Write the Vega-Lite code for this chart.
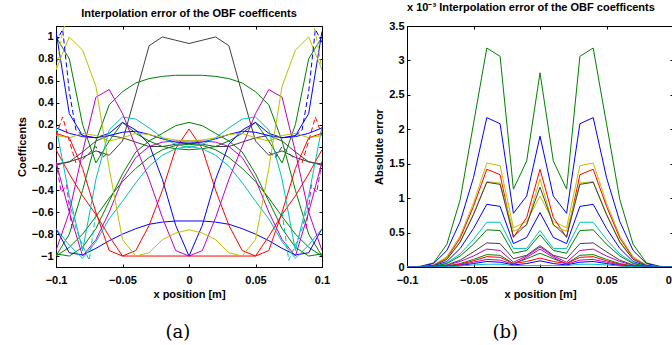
{
  "$schema": "https://vega.github.io/schema/vega-lite/v6.json",
  "padding": {"left": 15, "top": 1, "right": 0, "bottom": 0},
  "spacing": 42,
  "resolve": {"scale": {"x": "independent", "y": "independent", "color": "independent"}},
  "config": {
    "font": "Liberation Sans",
    "view": {"stroke": "black", "strokeWidth": 1},
    "axis": {
      "grid": false, "domainColor": "black", "tickColor": "black", "tickSize": -3,
      "labelFont": "Liberation Sans", "labelFontSize": 11, "labelFontWeight": "bold", "labelColor": "black",
      "titleFont": "Liberation Sans", "titleFontSize": 11, "titleFontWeight": "bold", "titleColor": "black",
      "labelFlush": false, "labelOverlap": false
    },
    "axisX": {"labelPadding": 10, "titlePadding": 3},
    "axisY": {"labelPadding": 6, "titlePadding": 4},
    "title": {"font": "Liberation Sans", "fontSize": 11, "fontWeight": "bold", "color": "black"},
    "line": {"strokeWidth": 1}
  },
  "datasets": {
    "ls": [
      {"c":"K1","x":-0.1,"y":-0.16},{"c":"K1","x":-0.09,"y":-0.14},{"c":"K1","x":-0.08,"y":-0.1},{"c":"K1","x":-0.07,"y":-0.04},{"c":"K1","x":-0.06,"y":-0.08},{"c":"K1","x":-0.05,"y":0.05},{"c":"K1","x":-0.04,"y":0.48},{"c":"K1","x":-0.03,"y":0.92},{"c":"K1","x":-0.02,"y":1.0},{"c":"K1","x":-0.01,"y":0.97},{"c":"K1","x":0,"y":0.94},{"c":"K1","x":0.01,"y":0.97},{"c":"K1","x":0.02,"y":1.0},{"c":"K1","x":0.03,"y":0.92},{"c":"K1","x":0.04,"y":0.48},{"c":"K1","x":0.05,"y":0.05},{"c":"K1","x":0.06,"y":-0.08},{"c":"K1","x":0.07,"y":-0.04},{"c":"K1","x":0.08,"y":-0.1},{"c":"K1","x":0.09,"y":-0.14},{"c":"K1","x":0.1,"y":-0.16},
      {"c":"K2","x":-0.1,"y":-0.17},{"c":"K2","x":-0.09,"y":-0.14},{"c":"K2","x":-0.08,"y":-0.05},{"c":"K2","x":-0.07,"y":0.05},{"c":"K2","x":-0.06,"y":0.1},{"c":"K2","x":-0.05,"y":0.08},{"c":"K2","x":-0.04,"y":0.04},{"c":"K2","x":-0.03,"y":0},{"c":"K2","x":-0.02,"y":0},{"c":"K2","x":-0.01,"y":0.02},{"c":"K2","x":0,"y":0.03},{"c":"K2","x":0.01,"y":0.02},{"c":"K2","x":0.02,"y":0},{"c":"K2","x":0.03,"y":0},{"c":"K2","x":0.04,"y":0.04},{"c":"K2","x":0.05,"y":0.08},{"c":"K2","x":0.06,"y":0.1},{"c":"K2","x":0.07,"y":0.05},{"c":"K2","x":0.08,"y":-0.05},{"c":"K2","x":0.09,"y":-0.14},{"c":"K2","x":0.1,"y":-0.17},
      {"c":"G1","x":-0.1,"y":-1},{"c":"G1","x":-0.09,"y":-0.8},{"c":"G1","x":-0.08,"y":-0.4},{"c":"G1","x":-0.07,"y":0.05},{"c":"G1","x":-0.06,"y":0.38},{"c":"G1","x":-0.05,"y":0.5},{"c":"G1","x":-0.04,"y":0.58},{"c":"G1","x":-0.03,"y":0.62},{"c":"G1","x":-0.02,"y":0.64},{"c":"G1","x":-0.01,"y":0.65},{"c":"G1","x":0,"y":0.65},{"c":"G1","x":0.01,"y":0.65},{"c":"G1","x":0.02,"y":0.64},{"c":"G1","x":0.03,"y":0.62},{"c":"G1","x":0.04,"y":0.58},{"c":"G1","x":0.05,"y":0.5},{"c":"G1","x":0.06,"y":0.38},{"c":"G1","x":0.07,"y":0.05},{"c":"G1","x":0.08,"y":-0.4},{"c":"G1","x":0.09,"y":-0.8},{"c":"G1","x":0.1,"y":-1},
      {"c":"G2","x":-0.1,"y":-0.98},{"c":"G2","x":-0.09,"y":-1},{"c":"G2","x":-0.08,"y":-0.92},{"c":"G2","x":-0.07,"y":-0.75},{"c":"G2","x":-0.06,"y":-0.5},{"c":"G2","x":-0.05,"y":-0.25},{"c":"G2","x":-0.04,"y":-0.05},{"c":"G2","x":-0.03,"y":0.05},{"c":"G2","x":-0.02,"y":0.12},{"c":"G2","x":-0.01,"y":0.19},{"c":"G2","x":0,"y":0.22},{"c":"G2","x":0.01,"y":0.19},{"c":"G2","x":0.02,"y":0.12},{"c":"G2","x":0.03,"y":0.05},{"c":"G2","x":0.04,"y":-0.05},{"c":"G2","x":0.05,"y":-0.25},{"c":"G2","x":0.06,"y":-0.5},{"c":"G2","x":0.07,"y":-0.75},{"c":"G2","x":0.08,"y":-0.92},{"c":"G2","x":0.09,"y":-1},{"c":"G2","x":0.1,"y":-0.98},
      {"c":"G3","x":-0.1,"y":-1},{"c":"G3","x":-0.09,"y":-0.92},{"c":"G3","x":-0.08,"y":-0.8},{"c":"G3","x":-0.07,"y":-0.64},{"c":"G3","x":-0.06,"y":-0.47},{"c":"G3","x":-0.05,"y":-0.32},{"c":"G3","x":-0.04,"y":-0.2},{"c":"G3","x":-0.03,"y":-0.1},{"c":"G3","x":-0.02,"y":-0.03},{"c":"G3","x":-0.01,"y":0.01},{"c":"G3","x":0,"y":0.02},{"c":"G3","x":0.01,"y":0.01},{"c":"G3","x":0.02,"y":-0.03},{"c":"G3","x":0.03,"y":-0.1},{"c":"G3","x":0.04,"y":-0.2},{"c":"G3","x":0.05,"y":-0.32},{"c":"G3","x":0.06,"y":-0.47},{"c":"G3","x":0.07,"y":-0.64},{"c":"G3","x":0.08,"y":-0.8},{"c":"G3","x":0.09,"y":-0.92},{"c":"G3","x":0.1,"y":-1},
      {"c":"G4","x":-0.1,"y":1},{"c":"G4","x":-0.09,"y":0.8},{"c":"G4","x":-0.08,"y":0.2},{"c":"G4","x":-0.07,"y":-0.15},{"c":"G4","x":-0.06,"y":0.05},{"c":"G4","x":-0.05,"y":0.22},{"c":"G4","x":-0.04,"y":0.12},{"c":"G4","x":-0.03,"y":0.05},{"c":"G4","x":-0.02,"y":0},{"c":"G4","x":-0.01,"y":-0.02},{"c":"G4","x":0,"y":-0.03},{"c":"G4","x":0.01,"y":-0.02},{"c":"G4","x":0.02,"y":0},{"c":"G4","x":0.03,"y":0.05},{"c":"G4","x":0.04,"y":0.12},{"c":"G4","x":0.05,"y":0.22},{"c":"G4","x":0.06,"y":0.05},{"c":"G4","x":0.07,"y":-0.15},{"c":"G4","x":0.08,"y":0.2},{"c":"G4","x":0.09,"y":0.8},{"c":"G4","x":0.1,"y":1},
      {"c":"B1","x":-0.1,"y":1.05},{"c":"B1","x":-0.09,"y":0.3},{"c":"B1","x":-0.08,"y":0.1},{"c":"B1","x":-0.07,"y":0.08},{"c":"B1","x":-0.06,"y":0.12},{"c":"B1","x":-0.05,"y":0.22},{"c":"B1","x":-0.04,"y":0.15},{"c":"B1","x":-0.03,"y":0.02},{"c":"B1","x":-0.02,"y":-0.3},{"c":"B1","x":-0.01,"y":-0.72},{"c":"B1","x":0,"y":-1},{"c":"B1","x":0.01,"y":-0.72},{"c":"B1","x":0.02,"y":-0.3},{"c":"B1","x":0.03,"y":0.02},{"c":"B1","x":0.04,"y":0.15},{"c":"B1","x":0.05,"y":0.22},{"c":"B1","x":0.06,"y":0.12},{"c":"B1","x":0.07,"y":0.08},{"c":"B1","x":0.08,"y":0.1},{"c":"B1","x":0.09,"y":0.3},{"c":"B1","x":0.1,"y":1.05},
      {"c":"B2","x":-0.1,"y":-0.75},{"c":"B2","x":-0.09,"y":-0.97},{"c":"B2","x":-0.08,"y":-0.99},{"c":"B2","x":-0.07,"y":-0.93},{"c":"B2","x":-0.06,"y":-0.86},{"c":"B2","x":-0.05,"y":-0.8},{"c":"B2","x":-0.04,"y":-0.75},{"c":"B2","x":-0.03,"y":-0.71},{"c":"B2","x":-0.02,"y":-0.69},{"c":"B2","x":-0.01,"y":-0.68},{"c":"B2","x":0,"y":-0.68},{"c":"B2","x":0.01,"y":-0.68},{"c":"B2","x":0.02,"y":-0.69},{"c":"B2","x":0.03,"y":-0.71},{"c":"B2","x":0.04,"y":-0.75},{"c":"B2","x":0.05,"y":-0.8},{"c":"B2","x":0.06,"y":-0.86},{"c":"B2","x":0.07,"y":-0.93},{"c":"B2","x":0.08,"y":-0.99},{"c":"B2","x":0.09,"y":-0.97},{"c":"B2","x":0.1,"y":-0.75},
      {"c":"B3","x":-0.1,"y":0.17},{"c":"B3","x":-0.09,"y":0.12},{"c":"B3","x":-0.08,"y":0.09},{"c":"B3","x":-0.07,"y":0.08},{"c":"B3","x":-0.06,"y":0.1},{"c":"B3","x":-0.05,"y":0.13},{"c":"B3","x":-0.04,"y":0.14},{"c":"B3","x":-0.03,"y":0.11},{"c":"B3","x":-0.02,"y":0.07},{"c":"B3","x":-0.01,"y":0.04},{"c":"B3","x":0,"y":0.03},{"c":"B3","x":0.01,"y":0.04},{"c":"B3","x":0.02,"y":0.07},{"c":"B3","x":0.03,"y":0.11},{"c":"B3","x":0.04,"y":0.14},{"c":"B3","x":0.05,"y":0.13},{"c":"B3","x":0.06,"y":0.1},{"c":"B3","x":0.07,"y":0.08},{"c":"B3","x":0.08,"y":0.09},{"c":"B3","x":0.09,"y":0.12},{"c":"B3","x":0.1,"y":0.17},
      {"c":"R1","x":-0.1,"y":-0.03},{"c":"R1","x":-0.09,"y":-0.25},{"c":"R1","x":-0.08,"y":-0.45},{"c":"R1","x":-0.07,"y":-0.62},{"c":"R1","x":-0.06,"y":-0.82},{"c":"R1","x":-0.05,"y":-1},{"c":"R1","x":-0.04,"y":-0.95},{"c":"R1","x":-0.03,"y":-0.72},{"c":"R1","x":-0.02,"y":-0.4},{"c":"R1","x":-0.01,"y":-0.02},{"c":"R1","x":0,"y":0.16},{"c":"R1","x":0.01,"y":-0.02},{"c":"R1","x":0.02,"y":-0.4},{"c":"R1","x":0.03,"y":-0.72},{"c":"R1","x":0.04,"y":-0.95},{"c":"R1","x":0.05,"y":-1},{"c":"R1","x":0.06,"y":-0.82},{"c":"R1","x":0.07,"y":-0.62},{"c":"R1","x":0.08,"y":-0.45},{"c":"R1","x":0.09,"y":-0.25},{"c":"R1","x":0.1,"y":-0.03},
      {"c":"R2","x":-0.1,"y":0.12},{"c":"R2","x":-0.09,"y":0.08},{"c":"R2","x":-0.08,"y":-0.2},{"c":"R2","x":-0.07,"y":-0.6},{"c":"R2","x":-0.06,"y":-0.95},{"c":"R2","x":-0.05,"y":-1},{"c":"R2","x":-0.04,"y":-1},{"c":"R2","x":-0.03,"y":-1},{"c":"R2","x":-0.02,"y":-1},{"c":"R2","x":-0.01,"y":-1},{"c":"R2","x":0,"y":-1},{"c":"R2","x":0.01,"y":-1},{"c":"R2","x":0.02,"y":-1},{"c":"R2","x":0.03,"y":-1},{"c":"R2","x":0.04,"y":-1},{"c":"R2","x":0.05,"y":-1},{"c":"R2","x":0.06,"y":-0.95},{"c":"R2","x":0.07,"y":-0.6},{"c":"R2","x":0.08,"y":-0.2},{"c":"R2","x":0.09,"y":0.08},{"c":"R2","x":0.1,"y":0.12},
      {"c":"C1","x":-0.1,"y":-0.75},{"c":"C1","x":-0.09,"y":-0.9},{"c":"C1","x":-0.08,"y":-1.02},{"c":"C1","x":-0.07,"y":-0.87},{"c":"C1","x":-0.06,"y":-0.66},{"c":"C1","x":-0.05,"y":-0.5},{"c":"C1","x":-0.04,"y":-0.33},{"c":"C1","x":-0.03,"y":-0.18},{"c":"C1","x":-0.02,"y":-0.08},{"c":"C1","x":-0.01,"y":-0.02},{"c":"C1","x":0,"y":0},{"c":"C1","x":0.01,"y":-0.02},{"c":"C1","x":0.02,"y":-0.08},{"c":"C1","x":0.03,"y":-0.18},{"c":"C1","x":0.04,"y":-0.33},{"c":"C1","x":0.05,"y":-0.5},{"c":"C1","x":0.06,"y":-0.66},{"c":"C1","x":0.07,"y":-0.87},{"c":"C1","x":0.08,"y":-1.02},{"c":"C1","x":0.09,"y":-0.9},{"c":"C1","x":0.1,"y":-0.75},
      {"c":"C2","x":-0.1,"y":0.18},{"c":"C2","x":-0.09,"y":-0.45},{"c":"C2","x":-0.08,"y":-0.95},{"c":"C2","x":-0.07,"y":-0.3},{"c":"C2","x":-0.06,"y":0.15},{"c":"C2","x":-0.05,"y":0.27},{"c":"C2","x":-0.04,"y":0.25},{"c":"C2","x":-0.03,"y":0.17},{"c":"C2","x":-0.02,"y":0.08},{"c":"C2","x":-0.01,"y":0.02},{"c":"C2","x":0,"y":-0.01},{"c":"C2","x":0.01,"y":0.02},{"c":"C2","x":0.02,"y":0.08},{"c":"C2","x":0.03,"y":0.17},{"c":"C2","x":0.04,"y":0.25},{"c":"C2","x":0.05,"y":0.27},{"c":"C2","x":0.06,"y":0.15},{"c":"C2","x":0.07,"y":-0.3},{"c":"C2","x":0.08,"y":-0.95},{"c":"C2","x":0.09,"y":-0.45},{"c":"C2","x":0.1,"y":0.18},
      {"c":"M1","x":-0.1,"y":-0.95},{"c":"M1","x":-0.09,"y":-0.6},{"c":"M1","x":-0.08,"y":-0.05},{"c":"M1","x":-0.07,"y":0.45},{"c":"M1","x":-0.06,"y":0.52},{"c":"M1","x":-0.05,"y":0.3},{"c":"M1","x":-0.04,"y":0},{"c":"M1","x":-0.03,"y":-0.3},{"c":"M1","x":-0.02,"y":-0.65},{"c":"M1","x":-0.01,"y":-0.95},{"c":"M1","x":0,"y":-1},{"c":"M1","x":0.01,"y":-0.95},{"c":"M1","x":0.02,"y":-0.65},{"c":"M1","x":0.03,"y":-0.3},{"c":"M1","x":0.04,"y":0},{"c":"M1","x":0.05,"y":0.3},{"c":"M1","x":0.06,"y":0.52},{"c":"M1","x":0.07,"y":0.45},{"c":"M1","x":0.08,"y":-0.05},{"c":"M1","x":0.09,"y":-0.6},{"c":"M1","x":0.1,"y":-0.95},
      {"c":"M2","x":-0.1,"y":-0.14},{"c":"M2","x":-0.09,"y":-0.6},{"c":"M2","x":-0.08,"y":-1},{"c":"M2","x":-0.07,"y":-0.85},{"c":"M2","x":-0.06,"y":-0.6},{"c":"M2","x":-0.05,"y":-0.3},{"c":"M2","x":-0.04,"y":-0.1},{"c":"M2","x":-0.03,"y":0},{"c":"M2","x":-0.02,"y":0.04},{"c":"M2","x":-0.01,"y":0.05},{"c":"M2","x":0,"y":0.05},{"c":"M2","x":0.01,"y":0.05},{"c":"M2","x":0.02,"y":0.04},{"c":"M2","x":0.03,"y":0},{"c":"M2","x":0.04,"y":-0.1},{"c":"M2","x":0.05,"y":-0.3},{"c":"M2","x":0.06,"y":-0.6},{"c":"M2","x":0.07,"y":-0.85},{"c":"M2","x":0.08,"y":-1},{"c":"M2","x":0.09,"y":-0.6},{"c":"M2","x":0.1,"y":-0.14},
      {"c":"Y1","x":-0.1,"y":0.7},{"c":"Y1","x":-0.09,"y":1},{"c":"Y1","x":-0.08,"y":0.88},{"c":"Y1","x":-0.07,"y":0.55},{"c":"Y1","x":-0.06,"y":-0.2},{"c":"Y1","x":-0.05,"y":-0.85},{"c":"Y1","x":-0.04,"y":-1},{"c":"Y1","x":-0.03,"y":-0.97},{"c":"Y1","x":-0.02,"y":-0.85},{"c":"Y1","x":-0.01,"y":-0.79},{"c":"Y1","x":0,"y":-0.76},{"c":"Y1","x":0.01,"y":-0.79},{"c":"Y1","x":0.02,"y":-0.85},{"c":"Y1","x":0.03,"y":-0.97},{"c":"Y1","x":0.04,"y":-1},{"c":"Y1","x":0.05,"y":-0.85},{"c":"Y1","x":0.06,"y":-0.2},{"c":"Y1","x":0.07,"y":0.55},{"c":"Y1","x":0.08,"y":0.88},{"c":"Y1","x":0.09,"y":1},{"c":"Y1","x":0.1,"y":0.7},
      {"c":"Y2","x":-0.1,"y":0.1},{"c":"Y2","x":-0.09,"y":0.08},{"c":"Y2","x":-0.08,"y":0.12},{"c":"Y2","x":-0.07,"y":0.1},{"c":"Y2","x":-0.06,"y":0.05},{"c":"Y2","x":-0.05,"y":0.08},{"c":"Y2","x":-0.04,"y":0.12},{"c":"Y2","x":-0.03,"y":0.11},{"c":"Y2","x":-0.02,"y":0.08},{"c":"Y2","x":-0.01,"y":0.06},{"c":"Y2","x":0,"y":0.05},{"c":"Y2","x":0.01,"y":0.06},{"c":"Y2","x":0.02,"y":0.08},{"c":"Y2","x":0.03,"y":0.11},{"c":"Y2","x":0.04,"y":0.12},{"c":"Y2","x":0.05,"y":0.08},{"c":"Y2","x":0.06,"y":0.05},{"c":"Y2","x":0.07,"y":0.1},{"c":"Y2","x":0.08,"y":0.12},{"c":"Y2","x":0.09,"y":0.08},{"c":"Y2","x":0.1,"y":0.1}
    ],
    "ld": [
      {"c":"B1","p":"L","x":-0.1,"y":0.95},{"c":"B1","p":"L","x":-0.095,"y":1.07},{"c":"B1","p":"L","x":-0.09,"y":0.5},{"c":"B1","p":"L","x":-0.085,"y":0.15},{"c":"B1","p":"L","x":-0.08,"y":0.1},
      {"c":"B1","p":"R","x":0.1,"y":0.95},{"c":"B1","p":"R","x":0.095,"y":1.07},{"c":"B1","p":"R","x":0.09,"y":0.5},{"c":"B1","p":"R","x":0.085,"y":0.15},{"c":"B1","p":"R","x":0.08,"y":0.1},
      {"c":"R2","p":"L","x":-0.1,"y":0.1},{"c":"R2","p":"L","x":-0.095,"y":0.27},{"c":"R2","p":"L","x":-0.09,"y":0.05},{"c":"R2","p":"L","x":-0.085,"y":-0.15},
      {"c":"R2","p":"R","x":0.1,"y":0.1},{"c":"R2","p":"R","x":0.095,"y":0.27},{"c":"R2","p":"R","x":0.09,"y":0.05},{"c":"R2","p":"R","x":0.085,"y":-0.15},
      {"c":"M2","p":"L","x":-0.1,"y":-0.14},{"c":"M2","p":"L","x":-0.096,"y":-0.42},{"c":"M2","p":"L","x":-0.092,"y":-0.35},{"c":"M2","p":"L","x":-0.088,"y":-0.75},
      {"c":"M2","p":"R","x":0.1,"y":-0.14},{"c":"M2","p":"R","x":0.096,"y":-0.42},{"c":"M2","p":"R","x":0.092,"y":-0.35},{"c":"M2","p":"R","x":0.088,"y":-0.75},
      {"c":"C2","p":"L","x":-0.09,"y":-0.5},{"c":"C2","p":"L","x":-0.085,"y":-0.75},{"c":"C2","p":"L","x":-0.08,"y":-0.9},{"c":"C2","p":"L","x":-0.075,"y":-1.04},{"c":"C2","p":"L","x":-0.07,"y":-0.6},
      {"c":"C2","p":"R","x":0.09,"y":-0.5},{"c":"C2","p":"R","x":0.085,"y":-0.75},{"c":"C2","p":"R","x":0.08,"y":-0.9},{"c":"C2","p":"R","x":0.075,"y":-1.04},{"c":"C2","p":"R","x":0.07,"y":-0.6},
      {"c":"Y1","p":"L","x":-0.1,"y":0.7},{"c":"Y1","p":"L","x":-0.095,"y":1.05},{"c":"Y1","p":"L","x":-0.092,"y":1.15},
      {"c":"Y1","p":"R","x":0.1,"y":0.7},{"c":"Y1","p":"R","x":0.095,"y":1.05},{"c":"Y1","p":"R","x":0.092,"y":1.15},
      {"c":"K1","p":"L","x":-0.08,"y":-0.12},{"c":"K1","p":"L","x":-0.07,"y":0.0},{"c":"K1","p":"L","x":-0.065,"y":-0.1},{"c":"K1","p":"L","x":-0.06,"y":-0.05},
      {"c":"K1","p":"R","x":0.08,"y":-0.12},{"c":"K1","p":"R","x":0.07,"y":0.0},{"c":"K1","p":"R","x":0.065,"y":-0.1},{"c":"K1","p":"R","x":0.06,"y":-0.05}
    ],
    "r": [
      {"c":"g1","x":-0.1,"y":0},{"c":"g1","x":-0.09,"y":0.01},{"c":"g1","x":-0.08,"y":0.06},{"c":"g1","x":-0.07,"y":0.33},{"c":"g1","x":-0.06,"y":0.98},{"c":"g1","x":-0.05,"y":2.08},{"c":"g1","x":-0.04,"y":3.18},{"c":"g1","x":-0.03,"y":3.06},{"c":"g1","x":-0.02,"y":1.13},{"c":"g1","x":-0.01,"y":1.54},{"c":"g1","x":0,"y":2.82},{"c":"g1","x":0.01,"y":1.54},{"c":"g1","x":0.02,"y":1.13},{"c":"g1","x":0.03,"y":3.06},{"c":"g1","x":0.04,"y":3.18},{"c":"g1","x":0.05,"y":2.08},{"c":"g1","x":0.06,"y":0.98},{"c":"g1","x":0.07,"y":0.33},{"c":"g1","x":0.08,"y":0.06},{"c":"g1","x":0.09,"y":0.01},{"c":"g1","x":0.1,"y":0},
      {"c":"b1","x":-0.1,"y":0},{"c":"b1","x":-0.09,"y":0.005},{"c":"b1","x":-0.08,"y":0.05},{"c":"b1","x":-0.07,"y":0.24},{"c":"b1","x":-0.06,"y":0.66},{"c":"b1","x":-0.05,"y":1.3},{"c":"b1","x":-0.04,"y":2.17},{"c":"b1","x":-0.03,"y":2.08},{"c":"b1","x":-0.02,"y":0.78},{"c":"b1","x":-0.01,"y":1.03},{"c":"b1","x":0,"y":1.9},{"c":"b1","x":0.01,"y":1.03},{"c":"b1","x":0.02,"y":0.78},{"c":"b1","x":0.03,"y":2.08},{"c":"b1","x":0.04,"y":2.17},{"c":"b1","x":0.05,"y":1.3},{"c":"b1","x":0.06,"y":0.66},{"c":"b1","x":0.07,"y":0.24},{"c":"b1","x":0.08,"y":0.05},{"c":"b1","x":0.09,"y":0.005},{"c":"b1","x":0.1,"y":0},
      {"c":"y1","x":-0.1,"y":0},{"c":"y1","x":-0.09,"y":0.004},{"c":"y1","x":-0.08,"y":0.03},{"c":"y1","x":-0.07,"y":0.15},{"c":"y1","x":-0.06,"y":0.45},{"c":"y1","x":-0.05,"y":0.93},{"c":"y1","x":-0.04,"y":1.51},{"c":"y1","x":-0.03,"y":1.47},{"c":"y1","x":-0.02,"y":0.57},{"c":"y1","x":-0.01,"y":0.66},{"c":"y1","x":0,"y":1.03},{"c":"y1","x":0.01,"y":0.66},{"c":"y1","x":0.02,"y":0.57},{"c":"y1","x":0.03,"y":1.47},{"c":"y1","x":0.04,"y":1.51},{"c":"y1","x":0.05,"y":0.93},{"c":"y1","x":0.06,"y":0.45},{"c":"y1","x":0.07,"y":0.15},{"c":"y1","x":0.08,"y":0.03},{"c":"y1","x":0.09,"y":0.004},{"c":"y1","x":0.1,"y":0},
      {"c":"r1","x":-0.1,"y":0},{"c":"r1","x":-0.09,"y":0.003},{"c":"r1","x":-0.08,"y":0.025},{"c":"r1","x":-0.07,"y":0.13},{"c":"r1","x":-0.06,"y":0.42},{"c":"r1","x":-0.05,"y":0.88},{"c":"r1","x":-0.04,"y":1.42},{"c":"r1","x":-0.03,"y":1.34},{"c":"r1","x":-0.02,"y":0.43},{"c":"r1","x":-0.01,"y":0.72},{"c":"r1","x":0,"y":1.42},{"c":"r1","x":0.01,"y":0.72},{"c":"r1","x":0.02,"y":0.43},{"c":"r1","x":0.03,"y":1.34},{"c":"r1","x":0.04,"y":1.42},{"c":"r1","x":0.05,"y":0.88},{"c":"r1","x":0.06,"y":0.42},{"c":"r1","x":0.07,"y":0.13},{"c":"r1","x":0.08,"y":0.025},{"c":"r1","x":0.09,"y":0.003},{"c":"r1","x":0.1,"y":0},
      {"c":"y2","x":-0.1,"y":0},{"c":"y2","x":-0.09,"y":0.003},{"c":"y2","x":-0.08,"y":0.02},{"c":"y2","x":-0.07,"y":0.12},{"c":"y2","x":-0.06,"y":0.37},{"c":"y2","x":-0.05,"y":0.77},{"c":"y2","x":-0.04,"y":1.24},{"c":"y2","x":-0.03,"y":1.22},{"c":"y2","x":-0.02,"y":0.52},{"c":"y2","x":-0.01,"y":0.6},{"c":"y2","x":0,"y":1.28},{"c":"y2","x":0.01,"y":0.6},{"c":"y2","x":0.02,"y":0.52},{"c":"y2","x":0.03,"y":1.22},{"c":"y2","x":0.04,"y":1.24},{"c":"y2","x":0.05,"y":0.77},{"c":"y2","x":0.06,"y":0.37},{"c":"y2","x":0.07,"y":0.12},{"c":"y2","x":0.08,"y":0.02},{"c":"y2","x":0.09,"y":0.003},{"c":"y2","x":0.1,"y":0},
      {"c":"k1","x":-0.1,"y":0},{"c":"k1","x":-0.09,"y":0.003},{"c":"k1","x":-0.08,"y":0.02},{"c":"k1","x":-0.07,"y":0.11},{"c":"k1","x":-0.06,"y":0.36},{"c":"k1","x":-0.05,"y":0.76},{"c":"k1","x":-0.04,"y":1.23},{"c":"k1","x":-0.03,"y":1.2},{"c":"k1","x":-0.02,"y":0.44},{"c":"k1","x":-0.01,"y":0.62},{"c":"k1","x":0,"y":1.16},{"c":"k1","x":0.01,"y":0.62},{"c":"k1","x":0.02,"y":0.44},{"c":"k1","x":0.03,"y":1.2},{"c":"k1","x":0.04,"y":1.23},{"c":"k1","x":0.05,"y":0.76},{"c":"k1","x":0.06,"y":0.36},{"c":"k1","x":0.07,"y":0.11},{"c":"k1","x":0.08,"y":0.02},{"c":"k1","x":0.09,"y":0.003},{"c":"k1","x":0.1,"y":0},
      {"c":"b2","x":-0.1,"y":0},{"c":"b2","x":-0.09,"y":0.002},{"c":"b2","x":-0.08,"y":0.015},{"c":"b2","x":-0.07,"y":0.08},{"c":"b2","x":-0.06,"y":0.27},{"c":"b2","x":-0.05,"y":0.56},{"c":"b2","x":-0.04,"y":0.91},{"c":"b2","x":-0.03,"y":0.88},{"c":"b2","x":-0.02,"y":0.34},{"c":"b2","x":-0.01,"y":0.43},{"c":"b2","x":0,"y":0.79},{"c":"b2","x":0.01,"y":0.43},{"c":"b2","x":0.02,"y":0.34},{"c":"b2","x":0.03,"y":0.88},{"c":"b2","x":0.04,"y":0.91},{"c":"b2","x":0.05,"y":0.56},{"c":"b2","x":0.06,"y":0.27},{"c":"b2","x":0.07,"y":0.08},{"c":"b2","x":0.08,"y":0.015},{"c":"b2","x":0.09,"y":0.002},{"c":"b2","x":0.1,"y":0},
      {"c":"c1","x":-0.1,"y":0},{"c":"c1","x":-0.09,"y":0.001},{"c":"c1","x":-0.08,"y":0.01},{"c":"c1","x":-0.07,"y":0.06},{"c":"c1","x":-0.06,"y":0.19},{"c":"c1","x":-0.05,"y":0.4},{"c":"c1","x":-0.04,"y":0.65},{"c":"c1","x":-0.03,"y":0.65},{"c":"c1","x":-0.02,"y":0.27},{"c":"c1","x":-0.01,"y":0.27},{"c":"c1","x":0,"y":0.53},{"c":"c1","x":0.01,"y":0.27},{"c":"c1","x":0.02,"y":0.27},{"c":"c1","x":0.03,"y":0.65},{"c":"c1","x":0.04,"y":0.65},{"c":"c1","x":0.05,"y":0.4},{"c":"c1","x":0.06,"y":0.19},{"c":"c1","x":0.07,"y":0.06},{"c":"c1","x":0.08,"y":0.01},{"c":"c1","x":0.09,"y":0.001},{"c":"c1","x":0.1,"y":0},
      {"c":"g2","x":-0.1,"y":0},{"c":"g2","x":-0.09,"y":0.001},{"c":"g2","x":-0.08,"y":0.008},{"c":"g2","x":-0.07,"y":0.05},{"c":"g2","x":-0.06,"y":0.16},{"c":"g2","x":-0.05,"y":0.33},{"c":"g2","x":-0.04,"y":0.54},{"c":"g2","x":-0.03,"y":0.53},{"c":"g2","x":-0.02,"y":0.2},{"c":"g2","x":-0.01,"y":0.24},{"c":"g2","x":0,"y":0.47},{"c":"g2","x":0.01,"y":0.24},{"c":"g2","x":0.02,"y":0.2},{"c":"g2","x":0.03,"y":0.53},{"c":"g2","x":0.04,"y":0.54},{"c":"g2","x":0.05,"y":0.33},{"c":"g2","x":0.06,"y":0.16},{"c":"g2","x":0.07,"y":0.05},{"c":"g2","x":0.08,"y":0.008},{"c":"g2","x":0.09,"y":0.001},{"c":"g2","x":0.1,"y":0},
      {"c":"k2","x":-0.1,"y":0},{"c":"k2","x":-0.09,"y":0},{"c":"k2","x":-0.08,"y":0.005},{"c":"k2","x":-0.07,"y":0.03},{"c":"k2","x":-0.06,"y":0.1},{"c":"k2","x":-0.05,"y":0.22},{"c":"k2","x":-0.04,"y":0.35},{"c":"k2","x":-0.03,"y":0.34},{"c":"k2","x":-0.02,"y":0.12},{"c":"k2","x":-0.01,"y":0.17},{"c":"k2","x":0,"y":0.31},{"c":"k2","x":0.01,"y":0.17},{"c":"k2","x":0.02,"y":0.12},{"c":"k2","x":0.03,"y":0.34},{"c":"k2","x":0.04,"y":0.35},{"c":"k2","x":0.05,"y":0.22},{"c":"k2","x":0.06,"y":0.1},{"c":"k2","x":0.07,"y":0.03},{"c":"k2","x":0.08,"y":0.005},{"c":"k2","x":0.09,"y":0},{"c":"k2","x":0.1,"y":0},
      {"c":"m1","x":-0.1,"y":0},{"c":"m1","x":-0.09,"y":0},{"c":"m1","x":-0.08,"y":0.004},{"c":"m1","x":-0.07,"y":0.025},{"c":"m1","x":-0.06,"y":0.08},{"c":"m1","x":-0.05,"y":0.16},{"c":"m1","x":-0.04,"y":0.26},{"c":"m1","x":-0.03,"y":0.24},{"c":"m1","x":-0.02,"y":0.07},{"c":"m1","x":-0.01,"y":0.16},{"c":"m1","x":0,"y":0.29},{"c":"m1","x":0.01,"y":0.16},{"c":"m1","x":0.02,"y":0.07},{"c":"m1","x":0.03,"y":0.24},{"c":"m1","x":0.04,"y":0.26},{"c":"m1","x":0.05,"y":0.16},{"c":"m1","x":0.06,"y":0.08},{"c":"m1","x":0.07,"y":0.025},{"c":"m1","x":0.08,"y":0.004},{"c":"m1","x":0.09,"y":0},{"c":"m1","x":0.1,"y":0},
      {"c":"g3","x":-0.1,"y":0},{"c":"g3","x":-0.09,"y":0},{"c":"g3","x":-0.08,"y":0.003},{"c":"g3","x":-0.07,"y":0.015},{"c":"g3","x":-0.06,"y":0.05},{"c":"g3","x":-0.05,"y":0.11},{"c":"g3","x":-0.04,"y":0.18},{"c":"g3","x":-0.03,"y":0.17},{"c":"g3","x":-0.02,"y":0.05},{"c":"g3","x":-0.01,"y":0.12},{"c":"g3","x":0,"y":0.2},{"c":"g3","x":0.01,"y":0.12},{"c":"g3","x":0.02,"y":0.05},{"c":"g3","x":0.03,"y":0.17},{"c":"g3","x":0.04,"y":0.18},{"c":"g3","x":0.05,"y":0.11},{"c":"g3","x":0.06,"y":0.05},{"c":"g3","x":0.07,"y":0.015},{"c":"g3","x":0.08,"y":0.003},{"c":"g3","x":0.09,"y":0},{"c":"g3","x":0.1,"y":0},
      {"c":"r2","x":-0.1,"y":0},{"c":"r2","x":-0.09,"y":0},{"c":"r2","x":-0.08,"y":0.002},{"c":"r2","x":-0.07,"y":0.012},{"c":"r2","x":-0.06,"y":0.04},{"c":"r2","x":-0.05,"y":0.09},{"c":"r2","x":-0.04,"y":0.15},{"c":"r2","x":-0.03,"y":0.14},{"c":"r2","x":-0.02,"y":0.05},{"c":"r2","x":-0.01,"y":0.08},{"c":"r2","x":0,"y":0.13},{"c":"r2","x":0.01,"y":0.08},{"c":"r2","x":0.02,"y":0.05},{"c":"r2","x":0.03,"y":0.14},{"c":"r2","x":0.04,"y":0.15},{"c":"r2","x":0.05,"y":0.09},{"c":"r2","x":0.06,"y":0.04},{"c":"r2","x":0.07,"y":0.012},{"c":"r2","x":0.08,"y":0.002},{"c":"r2","x":0.09,"y":0},{"c":"r2","x":0.1,"y":0},
      {"c":"m2","x":-0.1,"y":0},{"c":"m2","x":-0.09,"y":0},{"c":"m2","x":-0.08,"y":0.001},{"c":"m2","x":-0.07,"y":0.01},{"c":"m2","x":-0.06,"y":0.03},{"c":"m2","x":-0.05,"y":0.07},{"c":"m2","x":-0.04,"y":0.11},{"c":"m2","x":-0.03,"y":0.1},{"c":"m2","x":-0.02,"y":0.04},{"c":"m2","x":-0.01,"y":0.14},{"c":"m2","x":0,"y":0.26},{"c":"m2","x":0.01,"y":0.14},{"c":"m2","x":0.02,"y":0.04},{"c":"m2","x":0.03,"y":0.1},{"c":"m2","x":0.04,"y":0.11},{"c":"m2","x":0.05,"y":0.07},{"c":"m2","x":0.06,"y":0.03},{"c":"m2","x":0.07,"y":0.01},{"c":"m2","x":0.08,"y":0.001},{"c":"m2","x":0.09,"y":0},{"c":"m2","x":0.1,"y":0},
      {"c":"b3","x":-0.1,"y":0},{"c":"b3","x":-0.09,"y":0},{"c":"b3","x":-0.08,"y":0.001},{"c":"b3","x":-0.07,"y":0.006},{"c":"b3","x":-0.06,"y":0.02},{"c":"b3","x":-0.05,"y":0.05},{"c":"b3","x":-0.04,"y":0.08},{"c":"b3","x":-0.03,"y":0.07},{"c":"b3","x":-0.02,"y":0.03},{"c":"b3","x":-0.01,"y":0.05},{"c":"b3","x":0,"y":0.09},{"c":"b3","x":0.01,"y":0.05},{"c":"b3","x":0.02,"y":0.03},{"c":"b3","x":0.03,"y":0.07},{"c":"b3","x":0.04,"y":0.08},{"c":"b3","x":0.05,"y":0.05},{"c":"b3","x":0.06,"y":0.02},{"c":"b3","x":0.07,"y":0.006},{"c":"b3","x":0.08,"y":0.001},{"c":"b3","x":0.09,"y":0},{"c":"b3","x":0.1,"y":0},
      {"c":"c2","x":-0.1,"y":0},{"c":"c2","x":-0.09,"y":0},{"c":"c2","x":-0.08,"y":0.001},{"c":"c2","x":-0.07,"y":0.005},{"c":"c2","x":-0.06,"y":0.015},{"c":"c2","x":-0.05,"y":0.03},{"c":"c2","x":-0.04,"y":0.04},{"c":"c2","x":-0.03,"y":0.04},{"c":"c2","x":-0.02,"y":0.02},{"c":"c2","x":-0.01,"y":0.02},{"c":"c2","x":0,"y":0.02},{"c":"c2","x":0.01,"y":0.02},{"c":"c2","x":0.02,"y":0.02},{"c":"c2","x":0.03,"y":0.04},{"c":"c2","x":0.04,"y":0.04},{"c":"c2","x":0.05,"y":0.03},{"c":"c2","x":0.06,"y":0.015},{"c":"c2","x":0.07,"y":0.005},{"c":"c2","x":0.08,"y":0.001},{"c":"c2","x":0.09,"y":0},{"c":"c2","x":0.1,"y":0}
    ]
  },
  "hconcat": [
    {
      "title": {"text": "(a)", "orient": "bottom", "font": "DejaVu Serif", "fontSize": 18, "fontWeight": "normal", "offset": 24, "anchor": "middle", "dx": 5},
      "vconcat": [
        {
          "title": {"text": "Interpolation error of the OBF coefficents", "offset": 7},
          "width": 266, "height": 241,
          "resolve": {"axis": {"x": "independent", "y": "independent"}},
          "layer": [
            {
              "data": {"name": "ls"},
              "mark": {"type": "line", "clip": true, "strokeWidth": 1},
              "encoding": {
                "x": {"field": "x", "type": "quantitative", "scale": {"domain": [-0.1, 0.1], "nice": false, "zero": false},
                      "axis": {"title": "x position [m]", "values": [-0.1, -0.05, 0, 0.05, 0.1], "format": ".2~f"}},
                "y": {"field": "y", "type": "quantitative", "scale": {"domain": [-1.1, 1.1], "nice": false, "zero": false},
                      "axis": {"title": "Coefficents", "values": [-1, -0.8, -0.6, -0.4, -0.2, 0, 0.2, 0.4, 0.6, 0.8, 1], "format": ".1~f"}},
                "color": {"field": "c", "type": "nominal", "legend": null,
                          "scale": {"domain": ["K1","K2","G1","G2","G3","G4","B1","B2","B3","R1","R2","C1","C2","M1","M2","Y1","Y2"],
                                    "range": ["#404040","#404040","#008000","#008000","#008000","#008000","#0000ff","#0000ff","#0000ff","#ff0000","#ff0000","#00bfbf","#00bfbf","#bf00bf","#bf00bf","#bfbf00","#bfbf00"]}}
              }
            },
            {
              "data": {"name": "ld"},
              "mark": {"type": "line", "clip": true, "strokeWidth": 1, "strokeDash": [5, 3]},
              "encoding": {
                "x": {"field": "x", "type": "quantitative", "axis": null},
                "y": {"field": "y", "type": "quantitative", "axis": null},
                "color": {"field": "c", "type": "nominal", "legend": null},
                "detail": {"field": "p"}
              }
            },
            {
              "data": {"name": "ls"},
              "mark": {"type": "point", "opacity": 0},
              "encoding": {
                "x": {"field": "x", "type": "quantitative", "axis": {"orient": "top", "labels": false, "title": null, "domain": false, "values": [-0.1, -0.05, 0, 0.05, 0.1]}},
                "y": {"field": "y", "type": "quantitative", "axis": {"orient": "right", "labels": false, "title": null, "domain": false, "values": [-1, -0.8, -0.6, -0.4, -0.2, 0, 0.2, 0.4, 0.6, 0.8, 1]}}
              }
            }
          ]
        }
      ]
    },
    {
      "title": {"text": "(b)", "orient": "bottom", "font": "DejaVu Serif", "fontSize": 18, "fontWeight": "normal", "offset": 24, "anchor": "middle", "dx": -22},
      "vconcat": [
        {
          "title": {"text": "x 10⁻³ Interpolation error of the OBF coefficents", "offset": 7, "anchor": "start", "frame": "group"},
          "width": 266, "height": 241,
          "resolve": {"axis": {"x": "independent", "y": "independent"}},
          "layer": [
            {
              "data": {"name": "r"},
              "mark": {"type": "line", "clip": true, "strokeWidth": 1},
              "encoding": {
                "x": {"field": "x", "type": "quantitative", "scale": {"domain": [-0.1, 0.1], "nice": false, "zero": false},
                      "axis": {"title": "x position [m]", "values": [-0.1, -0.05, 0, 0.05, 0.1], "format": ".2~f"}},
                "y": {"field": "y", "type": "quantitative", "scale": {"domain": [0, 3.5], "nice": false},
                      "axis": {"title": "Absolute error", "values": [0, 0.5, 1, 1.5, 2, 2.5, 3, 3.5], "format": ".1~f"}},
                "color": {"field": "c", "type": "nominal", "legend": null,
                          "scale": {"domain": ["g1","b1","y1","r1","y2","k1","b2","c1","g2","k2","m1","g3","r2","m2","b3","c2"],
                                    "range": ["#008000","#0000ff","#bfbf00","#ff0000","#bfbf00","#404040","#0000ff","#00bfbf","#008000","#404040","#bf00bf","#008000","#ff0000","#bf00bf","#0000ff","#00bfbf"]}}
              }
            },
            {
              "data": {"name": "r"},
              "mark": {"type": "point", "opacity": 0},
              "encoding": {
                "x": {"field": "x", "type": "quantitative", "axis": {"orient": "top", "labels": false, "title": null, "domain": false, "values": [-0.1, -0.05, 0, 0.05, 0.1]}},
                "y": {"field": "y", "type": "quantitative", "axis": {"orient": "right", "labels": false, "title": null, "domain": false, "values": [0, 0.5, 1, 1.5, 2, 2.5, 3, 3.5]}}
              }
            }
          ]
        }
      ]
    }
  ]
}
